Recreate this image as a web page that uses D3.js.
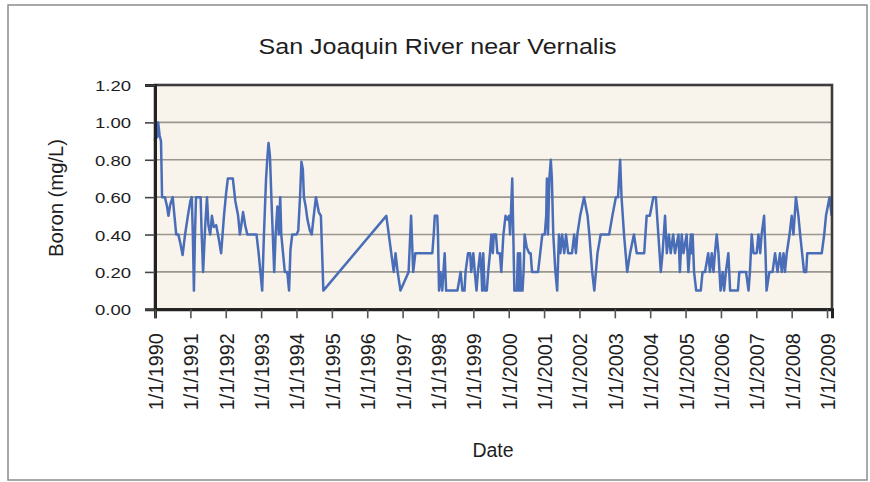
<!DOCTYPE html>
<html>
<head>
<meta charset="utf-8">
<script src="https://cdn.jsdelivr.net/npm/d3@7/dist/d3.min.js"></script>
<style>
  html, body { margin: 0; padding: 0; background: #fff; }
  text { font-family: "Liberation Sans", Arial, sans-serif; fill: #1e1e1e; }
</style>
</head>
<body>
<svg id="chart" width="870" height="482"></svg>
<script>
// ---- data (decimal year of sample, boron mg/L) ----
const sampleYears = [
  1990.00,1990.03,1990.06,1990.09,1990.13,1990.17,1990.20,1990.28,1990.34,1990.38,
  1990.43,1990.50,1990.55,1990.60,1990.66,1990.72,1990.78,1990.85,1990.93,1991.00,
  1991.04,1991.07,1991.10,1991.13,1991.16,1991.29,1991.32,1991.36,1991.42,1991.47,
  1991.51,1991.56,1991.61,1991.66,1991.73,1991.80,1991.87,1991.95,1992.01,1992.06,
  1992.20,1992.27,1992.35,1992.40,1992.44,1992.49,1992.55,1992.61,1992.87,1992.93,
  1992.98,1993.03,1993.08,1993.14,1993.18,1993.21,1993.25,1993.29,1993.33,1993.37,
  1993.41,1993.46,1993.50,1993.54,1993.57,1993.62,1993.67,1993.74,1993.79,1993.83,
  1993.88,1994.00,1994.05,1994.10,1994.14,1994.18,1994.21,1994.26,1994.31,1994.38,
  1994.43,1994.50,1994.55,1994.63,1994.69,1994.76,
  1996.54,1996.75,1996.80,1996.86,1996.94,1997.17,1997.24,1997.30,1997.36,1997.84,
  1997.88,1997.91,1997.98,1998.00,1998.03,1998.07,1998.12,1998.19,1998.23,1998.55,
  1998.64,1998.69,1998.75,1998.78,1998.85,1998.91,1998.94,1999.00,1999.04,1999.09,
  1999.13,1999.19,1999.23,1999.25,1999.28,1999.32,1999.38,1999.42,1999.47,1999.51,
  1999.55,1999.58,1999.64,1999.68,1999.75,1999.79,1999.85,1999.91,1999.96,2000.01,
  2000.04,2000.10,2000.13,2000.16,2000.23,2000.26,2000.29,2000.32,2000.35,2000.39,
  2000.42,2000.45,2000.51,2000.58,2000.62,2000.66,2000.83,2000.95,2001.02,2001.06,
  2001.08,2001.11,2001.15,2001.19,2001.22,2001.26,2001.32,2001.37,2001.42,2001.46,
  2001.51,2001.57,2001.62,2001.68,2001.79,2001.85,2001.90,2001.94,2002.02,2002.13,
  2002.23,2002.28,2002.36,2002.42,2002.51,2002.60,2002.84,2002.93,2003.03,2003.09,
  2003.15,2003.19,2003.26,2003.35,2003.43,2003.54,2003.62,2003.83,2003.90,2003.99,
  2004.09,2004.16,2004.23,2004.30,2004.35,2004.42,2004.47,2004.53,2004.58,2004.65,
  2004.70,2004.80,2004.84,2004.89,2004.94,2005.03,2005.08,2005.15,2005.17,2005.20,
  2005.24,2005.30,2005.43,2005.48,2005.55,2005.64,2005.69,2005.74,2005.79,2005.83,
  2005.88,2005.93,2005.99,2006.05,2006.09,2006.14,2006.21,2006.26,2006.48,2006.52,
  2006.71,2006.78,2006.82,2006.87,2006.92,2007.01,2007.06,2007.11,2007.15,2007.22,
  2007.26,2007.29,2007.37,2007.46,2007.53,2007.60,2007.67,2007.72,2007.77,2007.81,
  2007.86,2007.94,2008.00,2008.05,2008.12,2008.19,2008.24,2008.35,2008.41,2008.44,
  2008.85,2008.92,2008.97,2009.07,2009.13
];
const boron = [
  0.90,1.00,0.92,1.00,0.93,0.90,0.60,0.60,0.55,0.50,
  0.56,0.60,0.50,0.40,0.40,0.35,0.29,0.40,0.50,0.58,
  0.60,0.40,0.10,0.40,0.60,0.60,0.40,0.20,0.45,0.60,
  0.45,0.40,0.50,0.44,0.45,0.38,0.30,0.50,0.62,0.70,
  0.70,0.58,0.50,0.40,0.45,0.52,0.45,0.40,0.40,0.30,
  0.20,0.10,0.40,0.70,0.82,0.89,0.82,0.60,0.40,0.20,
  0.40,0.55,0.40,0.60,0.40,0.30,0.20,0.20,0.10,0.32,
  0.40,0.40,0.42,0.60,0.79,0.75,0.60,0.55,0.48,0.42,
  0.40,0.52,0.60,0.52,0.50,0.10,
  0.50,0.20,0.30,0.20,0.10,0.20,0.50,0.20,0.30,0.30,
  0.40,0.50,0.50,0.40,0.10,0.20,0.10,0.30,0.10,0.10,
  0.20,0.10,0.10,0.20,0.30,0.30,0.20,0.30,0.20,0.10,
  0.20,0.30,0.20,0.10,0.30,0.10,0.10,0.20,0.30,0.40,
  0.30,0.40,0.40,0.30,0.30,0.20,0.40,0.50,0.48,0.50,
  0.40,0.70,0.40,0.10,0.10,0.30,0.10,0.30,0.10,0.10,
  0.20,0.40,0.33,0.30,0.30,0.20,0.20,0.40,0.40,0.50,
  0.70,0.40,0.70,0.80,0.70,0.40,0.20,0.10,0.40,0.30,
  0.40,0.30,0.40,0.30,0.30,0.40,0.30,0.40,0.50,0.60,
  0.50,0.40,0.20,0.10,0.30,0.40,0.40,0.50,0.60,0.60,
  0.80,0.60,0.40,0.20,0.30,0.40,0.30,0.30,0.50,0.50,
  0.60,0.60,0.40,0.20,0.30,0.50,0.30,0.40,0.30,0.40,
  0.30,0.40,0.20,0.40,0.30,0.40,0.20,0.40,0.30,0.40,
  0.20,0.10,0.10,0.20,0.20,0.30,0.20,0.30,0.20,0.30,
  0.40,0.30,0.10,0.20,0.10,0.20,0.30,0.10,0.10,0.20,
  0.20,0.10,0.20,0.40,0.30,0.30,0.40,0.30,0.40,0.50,
  0.30,0.10,0.20,0.20,0.30,0.20,0.30,0.20,0.30,0.20,
  0.30,0.40,0.50,0.40,0.60,0.50,0.40,0.20,0.20,0.30,
  0.30,0.40,0.50,0.60,0.50
];
const yTickValues = [0, 0.2, 0.4, 0.6, 0.8, 1.0, 1.2];
const xTickYears = d3.range(1990, 2010);
const xTickLabels = xTickYears.map(y => `1/1/${y}`);
const titleText = "San Joaquin River near Vernalis";
const yLabelText = "Boron (mg/L)";
const xLabelText = "Date";

// ---- layout ----
const svg = d3.select("#chart");
const L = 155, R = 832, T = 85, B = 309.3;
const x = d3.scaleLinear().domain([1990, 2009.14]).range([L, R]);
const y = d3.scaleLinear().domain([0, 1.2]).range([B, T]);

// outer frame
svg.append("rect").attr("x", 8).attr("y", 5).attr("width", 859).attr("height", 475)
  .attr("fill", "#fff").attr("stroke", "#8c8c8c").attr("stroke-width", 1.5);

// plot area background
svg.append("rect").attr("x", L).attr("y", T).attr("width", R - L).attr("height", B - T)
  .attr("fill", "#f8f4ec");

// gridlines
svg.append("g").selectAll("line").data(yTickValues.filter(v => v > 0 && v < 1.2)).join("line")
  .attr("x1", L).attr("x2", R).attr("y1", d => y(d)).attr("y2", d => y(d))
  .attr("stroke", "#9a9690").attr("stroke-width", 1.6);

// data line
const pts = sampleYears.map((t, i) => [t, boron[i]]);
svg.append("path").datum(pts)
  .attr("fill", "none").attr("stroke", "#4a6db8").attr("stroke-width", 2.5)
  .attr("stroke-linejoin", "round")
  .attr("d", d3.line().x(d => x(d[0])).y(d => y(d[1])));

// plot border (top/right)
svg.append("rect").attr("x", L).attr("y", T).attr("width", R - L).attr("height", B - T)
  .attr("fill", "none").attr("stroke", "#3c3c3c").attr("stroke-width", 2.6);

// y axis
const yAxis = d3.axisLeft(y).tickValues(yTickValues).tickSize(10).tickPadding(14)
  .tickFormat(d3.format(".2f"));
const gy = svg.append("g").attr("transform", `translate(${L},0)`).call(yAxis);
gy.select(".domain").attr("stroke", "#222").attr("stroke-width", 3);
gy.selectAll(".tick line").attr("stroke", "#444").attr("stroke-width", 1.6);
gy.selectAll(".tick text").attr("font-size", 15.5).attr("fill", "#1e1e1e")
  .attr("font-family", '"Liberation Sans", Arial, sans-serif')
  .attr("textLength", 36).attr("lengthAdjust", "spacingAndGlyphs").attr("dy", "0.36em");

// x axis
const xAxis = d3.axisBottom(x).tickValues(xTickYears).tickSize(9)
  .tickFormat((d, i) => xTickLabels[i]);
const gx = svg.append("g").attr("transform", `translate(0,${B})`).call(xAxis);
gx.select(".domain").attr("stroke", "#222").attr("stroke-width", 3);
gx.selectAll(".tick line").attr("stroke", "#555").attr("stroke-width", 1.6);
gx.selectAll(".tick text")
  .attr("font-size", 19.5).attr("fill", "#1e1e1e")
  .attr("font-family", '"Liberation Sans", Arial, sans-serif')
  .attr("text-anchor", "end")
  .attr("transform", "translate(7.5,24) rotate(-90)")
  .attr("x", 0).attr("y", 0).attr("dy", 0)
  .attr("textLength", 77).attr("lengthAdjust", "spacingAndGlyphs");

// title
svg.append("text").attr("x", 437.5).attr("y", 54).attr("text-anchor", "middle")
  .attr("font-size", 21.5).attr("textLength", 358).attr("lengthAdjust", "spacingAndGlyphs")
  .text(titleText);

// y label
svg.append("text").attr("transform", "translate(63,198) rotate(-90)")
  .attr("text-anchor", "middle").attr("font-size", 19.5)
  .attr("textLength", 118).attr("lengthAdjust", "spacingAndGlyphs")
  .text(yLabelText);

// x label
svg.append("text").attr("x", 493).attr("y", 457).attr("text-anchor", "middle")
  .attr("font-size", 19.5).text(xLabelText);
</script>
</body>
</html>
